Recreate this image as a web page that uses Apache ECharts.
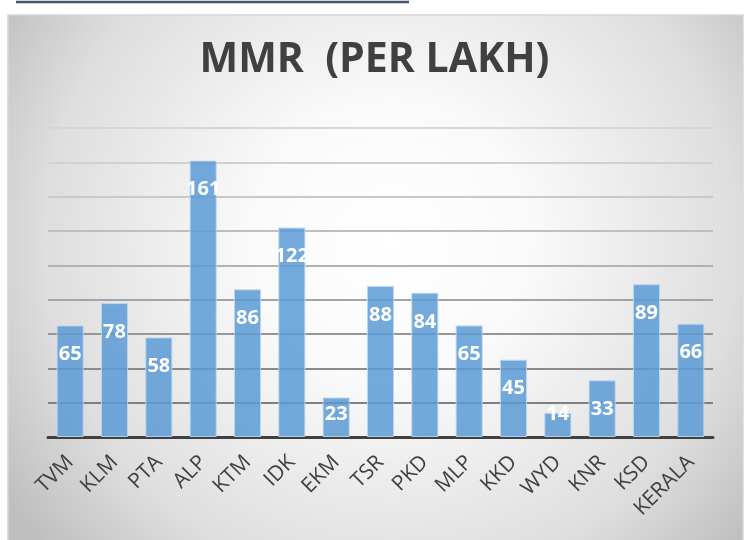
<!DOCTYPE html>
<html>
<head>
<meta charset="utf-8">
<script src="https://cdn.jsdelivr.net/npm/echarts@6/dist/echarts.min.js"></script>
<style>
  html, body { margin: 0; padding: 0; background: #fff; }
  #main { width: 749px; height: 540px; }
</style>
</head>
<body>
<div id="main"></div>
<script>
// district-wise MMR values
var districts = ['TVM', 'KLM', 'PTA', 'ALP', 'KTM', 'IDK', 'EKM', 'TSR', 'PKD', 'MLP', 'KKD', 'WYD', 'KNR', 'KSD', 'KERALA'];
var mmr = [65, 78, 58, 161, 86, 122, 23, 88, 84, 65, 45, 14, 33, 89, 66];
var yTicks = [0, 20, 40, 60, 80, 100, 120, 140, 160, 180];

// short bars: label pushed up (style only)
var labelShift = { EKM: 7, WYD: -9 };

var chart = echarts.init(document.getElementById('main'));

var barData = mmr.map(function (v, i) {
    var item = { value: v };
    if (labelShift[districts[i]] !== undefined) {
        item.label = { distance: labelShift[districts[i]] };
    }
    return item;
});

var option = {
    animation: false,
    backgroundColor: '#fff',
    graphic: [
        {
            type: 'rect', z: -10, silent: true,
            shape: { x: 8, y: 15, width: 735, height: 540 },
            style: {
                fill: {
                    type: 'radial', x: 0.52, y: 0.42, r: 0.85,
                    colorStops: [
                        { offset: 0, color: '#ffffff' },
                        { offset: 0.3, color: '#fafafa' },
                        { offset: 0.75, color: '#dedede' },
                        { offset: 1, color: '#bfbfbf' }
                    ]
                },
                stroke: '#d6d6d6', lineWidth: 1.5
            }
        },
        {
            type: 'line', silent: true,
            shape: { x1: 16, y1: 2, x2: 409, y2: 2 },
            style: { stroke: '#44546a', lineWidth: 2.5 }
        }
    ],
    title: {
        text: 'MMR  (PER LAKH)',
        left: 'center',
        top: 35,
        textStyle: {
            fontFamily: 'Open Sans',
            fontWeight: 'bold',
            fontSize: 41,
            color: '#404040'
        }
    },
    grid: { left: 48, right: 36, top: 128, bottom: 103 },
    xAxis: {
        type: 'category',
        data: districts,
        axisLine: { lineStyle: { color: '#404040', width: 3 } },
        axisTick: { show: false },
        axisLabel: {
            rotate: 45,
            interval: 0,
            margin: 22,
            fontFamily: 'Open Sans',
            fontSize: 21,
            color: '#404040'
        }
    },
    yAxis: {
        type: 'value',
        min: yTicks[0],
        max: yTicks[yTicks.length - 1],
        interval: 20,
        axisLabel: { show: false },
        axisLine: { show: false },
        axisTick: { show: false },
        splitLine: {
            lineStyle: {
                width: 2,
                color: ['#7a7a7a', '#7f7f7f', '#8a8a8a', '#969696', '#a4a4a4', '#b2b2b2', '#bfbfbf', '#c9c9c9', '#d0d0d0', '#d6d6d6']
            }
        }
    },
    series: [{
        type: 'bar',
        data: barData,
        barWidth: '61%',
        itemStyle: {
            color: 'rgba(91,155,213,0.85)',
            borderColor: 'rgba(189,215,238,0.9)',
            borderWidth: 1
        },
        label: {
            show: true,
            position: 'insideTop',
            distance: 19,
            fontFamily: 'Open Sans',
            fontWeight: 'bold',
            fontSize: 20,
            color: '#fff'
        }
    }]
};

chart.setOption(option);
</script>
</body>
</html>
